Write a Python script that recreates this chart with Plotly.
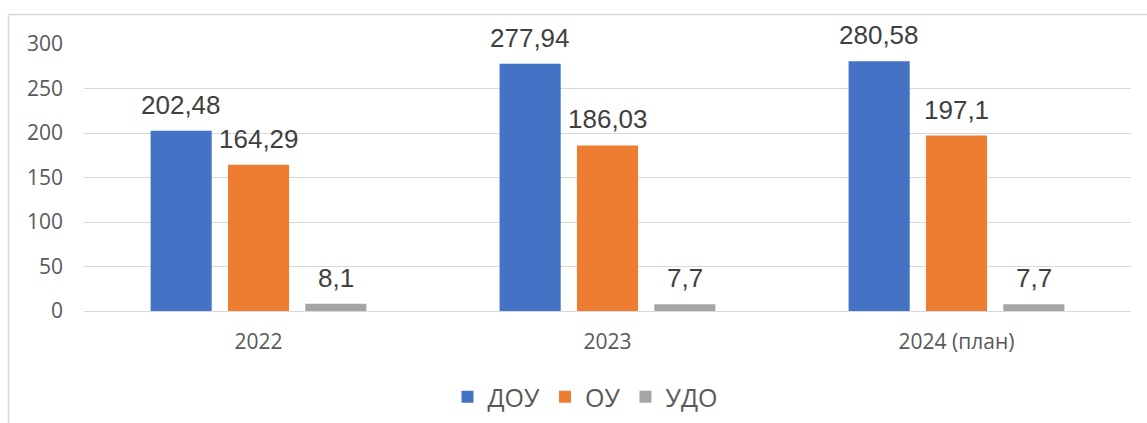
import plotly.graph_objects as go

# Categories and series values
years = ["2022", "2023", "2024 (план)"]
series_names = ["ДОУ", "ОУ", "УДО"]
dou = [202.48, 277.94, 280.58]
ou = [164.29, 186.03, 197.1]
udo = [8.1, 7.7, 7.7]
y_ticks = [0, 50, 100, 150, 200, 250, 300]

colors = ["#4472C4", "#ED7D31", "#A5A5A5"]
all_series = [dou, ou, udo]

BARGAP = 0.335
BARGROUPGAP = 0.21

fig = go.Figure()
for name, vals, col in zip(series_names, all_series, colors):
    fig.add_trace(go.Bar(
        name=name, x=years, y=vals,
        marker=dict(color=col, line=dict(width=0)),
    ))

# value labels above each bar, positioned at the bar's slot centre
slot = (1 - BARGAP) / len(all_series)
annotations = []
for k, vals in enumerate(all_series):
    for i, v in enumerate(vals):
        label = f"{v:g}".replace(".", ",")
        annotations.append(dict(
            x=i + (k - (len(all_series) - 1) / 2) * slot, y=v,
            xref="x", yref="y", text=label, showarrow=False,
            yanchor="bottom", xanchor="center", yshift=9,
            font=dict(family="Liberation Sans, Arial", size=26, color="#404040"),
        ))

# chart area border (top and left edges)
L, R, T, B = 84, 16, 44, 112
W, H = 1147 - L - R, 423 - T - B
px = lambda p: (p - L) / W
py = lambda p: (423 - B - p) / H
shapes = [
    dict(type="line", xref="paper", yref="paper", x0=px(8.5), x1=px(1160),
         y0=py(14.5), y1=py(14.5), line=dict(color="#D9D9D9", width=1.5)),
    dict(type="line", xref="paper", yref="paper", x0=px(8.5), x1=px(8.5),
         y0=py(14.5), y1=py(440), line=dict(color="#D9D9D9", width=1.5)),
]

fig.update_layout(
    width=1147, height=423,
    margin=dict(l=L, r=R, t=T, b=B, autoexpand=False),
    paper_bgcolor="white", plot_bgcolor="white",
    barmode="group", bargap=BARGAP, bargroupgap=BARGROUPGAP,
    font=dict(family="Open Sans", color="#595959", size=21),
    annotations=annotations, shapes=shapes,
    showlegend=True,
    legend=dict(orientation="h", x=px(585), xanchor="center", y=py(397),
                yanchor="middle", font=dict(family="Open Sans", size=25, color="#595959"),
                itemsizing="constant", traceorder="normal"),
    xaxis=dict(showgrid=False, showline=False, ticks="", ticklabelstandoff=16,
               tickfont=dict(size=21), automargin=False),
    yaxis=dict(range=[0, 300], tickvals=y_ticks, showgrid=True, gridcolor="#D9D9D9",
               gridwidth=1, zeroline=True, zerolinecolor="#D9D9D9", zerolinewidth=1,
               showline=False, ticks="", ticklabelstandoff=20, tickfont=dict(size=21),
               automargin=False),
)

fig.write_html("out.html")
